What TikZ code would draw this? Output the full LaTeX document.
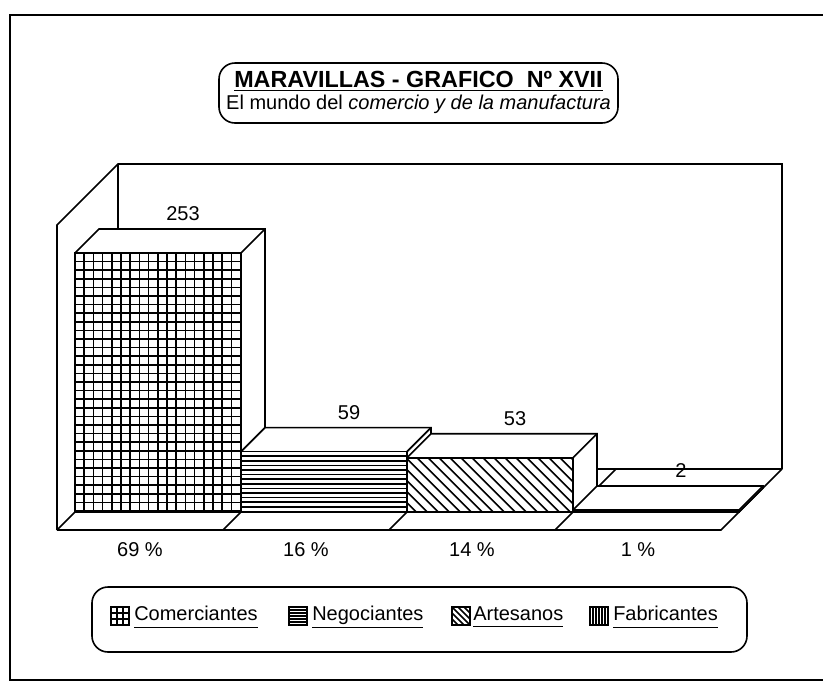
\documentclass[tikz,border=0pt]{standalone}
\usepackage{fontspec}
\setmainfont{Liberation Sans}
\usepackage{tikz}
\usetikzlibrary{calc}
\usetikzlibrary{positioning}

\newcommand{\legline}[1]{\underline{\vphantom{gy}#1}}

\tikzset{
  wall/.style={line width=1.2pt},
  hatch/.style={line width=1.1pt},
  lbl/.style={font=\fontsize{15}{18}\selectfont, inner sep=0pt},
}

\begin{document}
\begin{tikzpicture}[x=0.75pt,y=-0.75pt]
\useasboundingbox (0,0) rectangle (823,683);

\draw[wall] (823,15) -- (10,15) -- (10,680) -- (823,680);

\draw[wall, rounded corners=12pt] (219,63) rectangle (618,123);
\node[lbl, font=\fontsize{17.5}{20}\selectfont\bfseries] (title) at (418.5,81)
  {\underline{MARAVILLAS - GRAFICO\ \ Nº XVII}};
\node[lbl] (subtitle) at (418.5,104) {El mundo del \textit{comercio y de la manufactura}};

% walls and floor
\draw[wall] (57,530) -- (57,225) -- (118,164) -- (782,164) -- (782,469);
\draw[wall] (118,164) -- (118,469) -- (782,469);
\draw[wall] (57,530) -- (721,530) -- (782,469);
\foreach \i in {0,1,2,3}
  \draw[wall] ({57+166*\i},530) -- ({118+166*\i},469);

% bars
\foreach \i/\v in {0/253,1/59,2/53,3/2}{
  \pgfmathsetmacro\xa{75+166*\i}
  \pgfmathsetmacro\xb{\xa+166}
  \pgfmathsetmacro\yt{512-\v/253*259}
  \filldraw[wall, fill=white] (\xa,\yt) -- (\xa+24,\yt-24) -- (\xb+24,\yt-24)
    -- (\xb+24,488) -- (\xb,512) -- (\xa,512) -- cycle;
  \draw[wall] (\xb,\yt) -- (\xb+24,\yt-24);
}

\begin{scope}
\clip (75,253) rectangle (241,512);
\foreach \x in {75,84.2,...,242} \draw[hatch] (\x,253) -- (\x,512);
\foreach \y in {253,261.6,...,513} \draw[hatch] (75,\y) -- (241,\y);
\end{scope}
\begin{scope}
\clip (241,451.6) rectangle (407,512);
\foreach \y in {451.6,456.2,...,513} \draw[hatch] (241,\y) -- (407,\y);
\end{scope}
\begin{scope}
\clip (407,457.75) rectangle (573,512);
\foreach \x in {340,351,...,580} \draw[hatch] (\x,457.75) -- (\x+55,512.75);
\end{scope}
\begin{scope}
\clip (573,509.95) rectangle (739,512);
\foreach \x in {573,578,...,740} \draw[hatch] (\x,509.95) -- (\x,512);
\end{scope}
\foreach \i/\v in {0/253,1/59,2/53,3/2}{
  \pgfmathsetmacro\xa{75+166*\i}
  \pgfmathsetmacro\yt{512-\v/253*259}
  \draw[wall] (\xa,\yt) rectangle (\xa+166,512);
}

% values
\node[lbl] (vComer) at (183,214) {253};
\node[lbl] (vNegoc) at (349,413) {59};
\node[lbl] (vArtes) at (515,419) {53};
\node[lbl] (vFabri) at (681,471) {2};

% percentages
\node[lbl] (pComer) at (140,550) {69 \%};
\node[lbl] (pNegoc) at (306,550) {16 \%};
\node[lbl] (pArtes) at (472,550) {14 \%};
\node[lbl] (pFabri) at (638,550) {1 \%};

% legend
\draw[wall, rounded corners=12pt] (92,587) rectangle (747,652);
\draw[hatch] (111,607) rectangle (129,625);
\foreach \x in {117,123} \draw[hatch] (\x,607) -- (\x,625);
\foreach \y in {613,619} \draw[hatch] (111,\y) -- (129,\y);
\draw[hatch] (289,607) rectangle (307,625);
\foreach \y in {610,613,...,623} \draw[hatch] (289,\y) -- (307,\y);
\draw[hatch] (452,607) rectangle (470,625);
\begin{scope}
\clip (452,607) rectangle (470,625);
\foreach \x in {434,440,...,470} \draw[hatch] (\x,607) -- (\x+18,625);
\end{scope}
\draw[hatch] (590,607) rectangle (608,625);
\foreach \x in {593,596,...,606} \draw[hatch] (\x,607) -- (\x,625);

\node[lbl, anchor=west] (lComer) at (134,617) {\legline{Comerciantes}};
\node[lbl, anchor=west] (lNegoc) at (312,617) {\legline{Negociantes}};
\node[lbl, anchor=west] (lArtes) at (473,617) {\legline{Artesanos}};
\node[lbl, anchor=west] (lFabri) at (613,617) {\legline{Fabricantes}};

\end{tikzpicture}
\end{document}
